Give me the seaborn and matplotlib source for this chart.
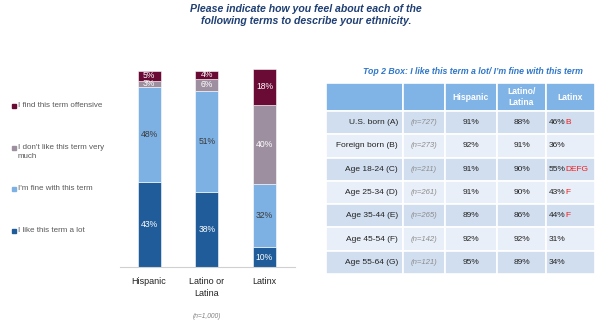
import numpy as np
import pandas as pd
import matplotlib
matplotlib.use("Agg")
import matplotlib.pyplot as plt
from matplotlib.patches import Rectangle
import seaborn as sns

# ---------------- data ----------------
terms = ["Hispanic", "Latino or\nLatina", "Latinx"]
like_lot = [43, 38, 10]
fine = [48, 51, 32]
dont_like = [3, 6, 40]
offensive = [5, 4, 18]
series_names = ["I like this term a lot", "I'm fine with this term",
                "I don't like this term very\nmuch", "I find this term offensive"]
series_colors = ["#1F5C99", "#7EB1E3", "#9D8FA0", "#6A0B35"]
label_colors = ["white", "#3A3A3A", "white", "white"]

row_labels = ["U.S. born (A)", "Foreign born (B)", "Age 18-24 (C)", "Age 25-34 (D)",
              "Age 35-44 (E)", "Age 45-54 (F)", "Age 55-64 (G)"]
row_n = ["(n=727)", "(n=273)", "(n=211)", "(n=261)", "(n=265)", "(n=142)", "(n=121)"]
col_headers = ["Hispanic", "Latino/\nLatina", "Latinx"]
hispanic_pct = [91, 92, 91, 91, 89, 92, 95]
latino_pct = [88, 91, 90, 90, 86, 92, 89]
latinx_pct = [46, 36, 55, 43, 44, 31, 34]
latinx_sig = ["B", "", "DEFG", "F", "F", "", ""]

sns.set_theme(style="white")
plt.rcParams["font.family"] = ["Liberation Sans", "DejaVu Sans"]

W, H = 615, 326
fig = plt.figure(figsize=(W / 100, H / 100), dpi=100)

# canvas axes in pixel coords
cv = fig.add_axes([0, 0, 1, 1])
cv.set_xlim(0, W)
cv.set_ylim(H, 0)
cv.axis("off")

# title
cv.text(306, 15, "Please indicate how you feel about each of the\nfollowing terms to describe your ethnicity.",
        ha="center", va="center", fontsize=7.6, fontweight="bold", style="italic",
        color="#1F3F73", linespacing=1.3)

# ---------------- stacked bars ----------------
ax = fig.add_axes([120 / W, (H - 267) / H, 175 / W, 198 / H])
layers = [like_lot, fine, dont_like, offensive]
bottom = np.zeros(len(terms))
for vals, name, col, lc in zip(layers, series_names, series_colors, label_colors):
    d = pd.DataFrame({"term": terms, "val": vals})
    sns.barplot(data=d, x="term", y="val", ax=ax, color=col, width=0.4,
                bottom=bottom, saturation=1, edgecolor="white", linewidth=0.4)
    for i, v in enumerate(vals):
        ax.text(i, bottom[i] + v / 2, f"{v}%", ha="center", va="center",
                fontsize=6.2, color=lc)
    bottom = bottom + np.array(vals)

ax.set_xlim(-0.504, 2.53)
ax.set_ylim(0, 100)
ax.set_xlabel("")
ax.set_ylabel("")
ax.set_yticks([])
for s in ["top", "right", "left"]:
    ax.spines[s].set_visible(False)
ax.spines["bottom"].set_color("#D0D0D0")
ax.spines["bottom"].set_linewidth(0.8)
ax.tick_params(axis="x", length=0, pad=7, labelsize=6.5, labelcolor="#222222")
for t in ax.get_xticklabels():
    t.set_verticalalignment("top")
    t.set_linespacing(1.4)

cv.text(207, 316, "(n=1,000)", ha="center", va="center", fontsize=4.8,
        style="italic", color="#808080")

# ---------------- legend ----------------
leg_y = [231, 189, 148, 106]
for name, col, y in zip(series_names, series_colors, leg_y):
    cv.add_patch(Rectangle((11.5, y - 2), 4, 4, color=col))
    cv.text(18, y - 4, name, ha="left", va="top", fontsize=5.8,
            color="#595959", linespacing=1.4)

# ---------------- table ----------------
cv.text(473, 72, "Top 2 Box: I like this term a lot/ I\u2019m fine with this term",
        ha="center", va="center", fontsize=6.3, fontweight="bold", style="italic",
        color="#2F77C9")

col_x = [326, 403, 445, 497, 546, 595]
head_top, head_bot = 83, 111
row_h = (274 - head_bot) / len(row_labels)
header_color = "#80B3E6"
row_colors = ["#D1DEEF", "#E9EFF8"]

for j in range(5):
    cv.add_patch(Rectangle((col_x[j], head_top), col_x[j + 1] - col_x[j],
                           head_bot - head_top, facecolor=header_color,
                           edgecolor="white", linewidth=1.2))
for j, h in enumerate(col_headers):
    cx = (col_x[j + 2] + col_x[j + 3]) / 2
    cv.text(cx, (head_top + head_bot) / 2, h, ha="center", va="center",
            fontsize=6.2, fontweight="bold", color="white", linespacing=1.2)

for i in range(len(row_labels)):
    y0 = head_bot + i * row_h
    yc = y0 + row_h / 2
    for j in range(5):
        cv.add_patch(Rectangle((col_x[j], y0), col_x[j + 1] - col_x[j], row_h,
                               facecolor=row_colors[i % 2], edgecolor="white",
                               linewidth=1.2))
    cv.text(col_x[1] - 5, yc, row_labels[i], ha="right", va="center",
            fontsize=6.0, color="#222222")
    cv.text((col_x[1] + col_x[2]) / 2, yc, row_n[i], ha="center", va="center",
            fontsize=5.6, style="italic", color="#8C8C8C")
    cv.text((col_x[2] + col_x[3]) / 2, yc, f"{hispanic_pct[i]}%", ha="center",
            va="center", fontsize=6.0, color="#222222")
    cv.text((col_x[3] + col_x[4]) / 2, yc, f"{latino_pct[i]}%", ha="center",
            va="center", fontsize=6.0, color="#222222")
    t = cv.text(col_x[4] + 3, yc, f"{latinx_pct[i]}%", ha="left", va="center",
                fontsize=6.0, color="#222222")
    if latinx_sig[i]:
        cv.annotate(latinx_sig[i], xy=(1, 0.5), xycoords=t, ha="left",
                    va="center", fontsize=6.0, color="#F01E1E")

fig.savefig("out.png", dpi=100)
